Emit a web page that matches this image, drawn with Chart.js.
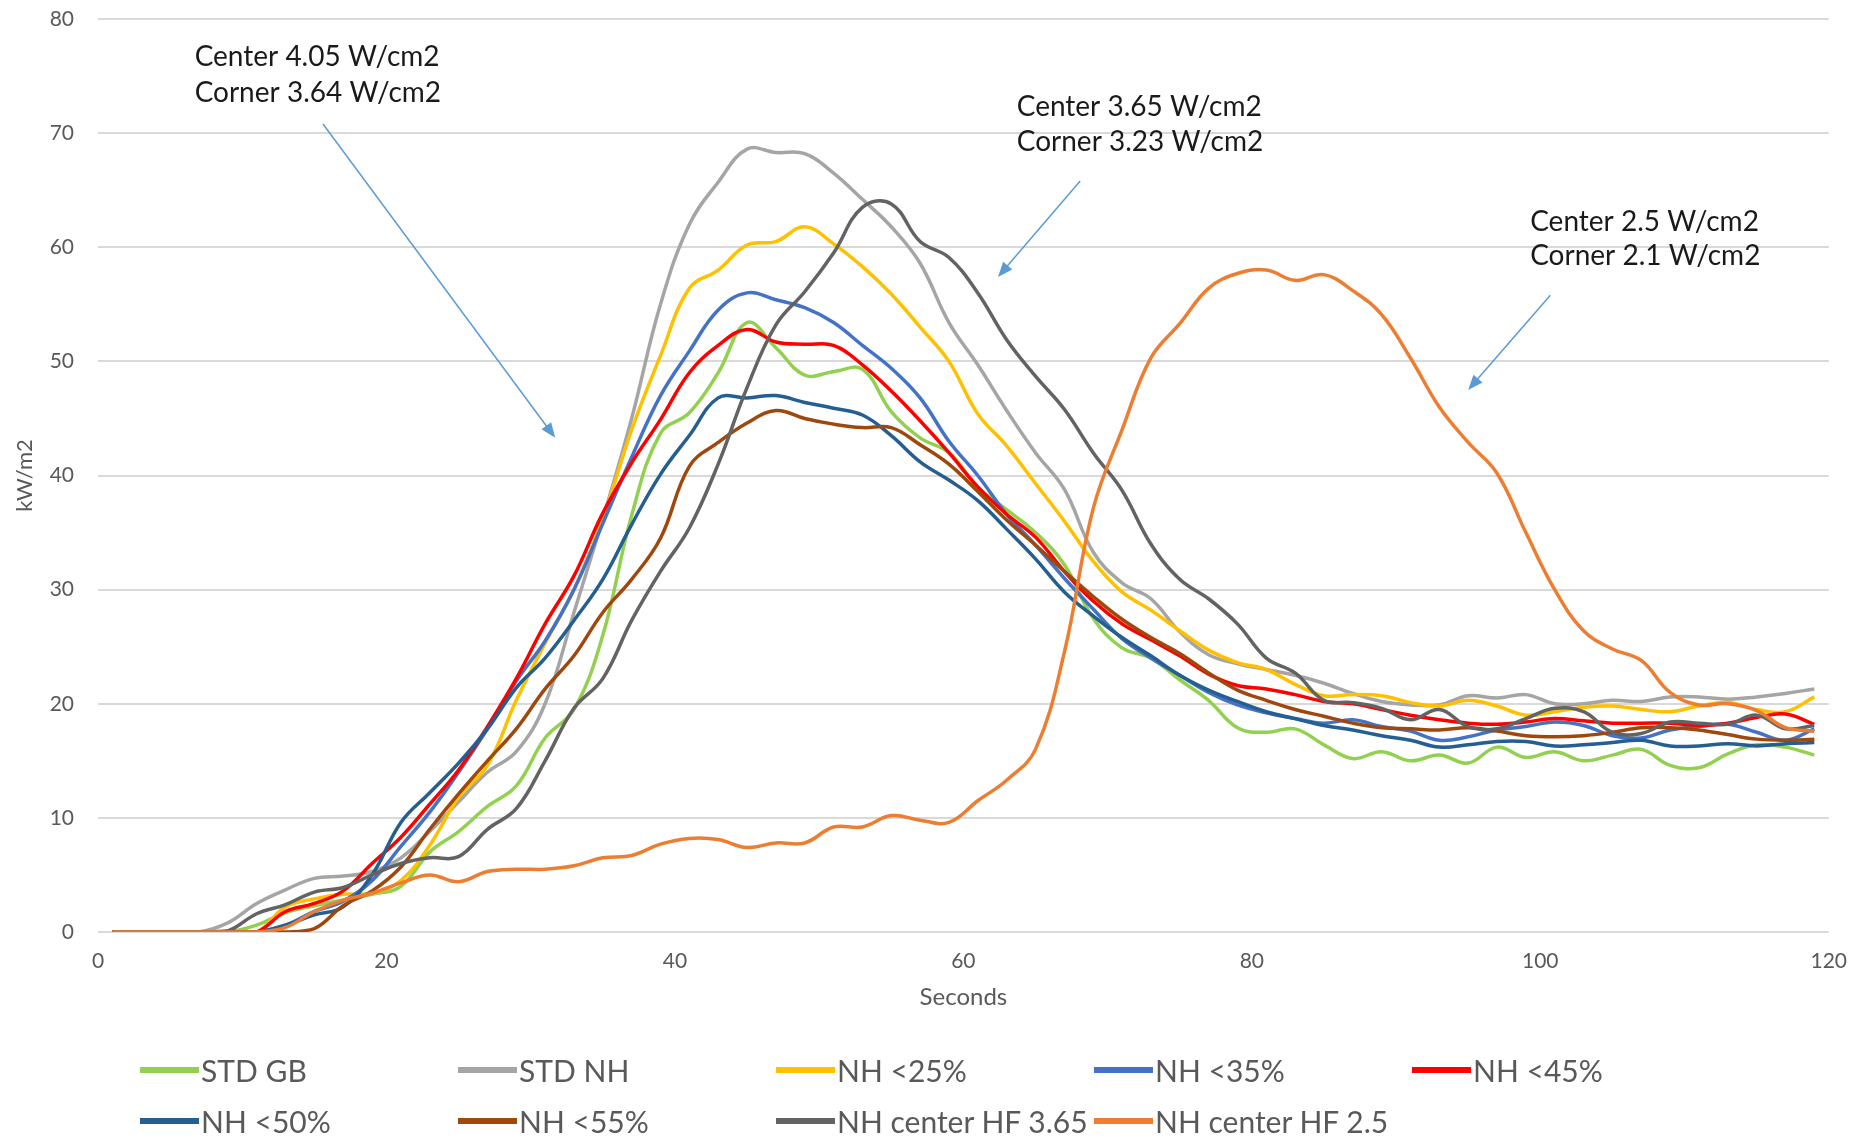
<!DOCTYPE html>
<html>
<head>
<meta charset="utf-8">
<title>Heat flux curves</title>
<script src="https://cdn.jsdelivr.net/npm/chart.js@4.4.1/dist/chart.umd.min.js"></script>
<style>
  html, body { margin: 0; padding: 0; background: #fff; }
  #wrap { position: relative; width: 1864px; height: 1139px; overflow: hidden; }
  #heatChart { display: block; }
  .legend-item {
    position: absolute; display: flex; align-items: center; height: 40px;
    font-family: Lato, "Open Sans", sans-serif; font-size: 30px; color: #595959; white-space: nowrap;
  }
  .legend-item .swatch { display: inline-block; width: 59px; height: 6px; margin-right: 2px; }
</style>
</head>
<body>
<div id="wrap">
  <canvas id="heatChart" width="1864" height="1139"></canvas>
  <div id="legend"></div>
</div>
<script>
// time axis (seconds)
const seconds = [1, 3, 5, 7, 9, 11, 13, 15, 17, 19, 21, 23, 25, 27, 29, 31, 33, 35, 37, 39,
  41, 43, 45, 47, 49, 51, 53, 55, 57, 59, 61, 63, 65, 67, 69, 71, 73, 75, 77, 79,
  81, 83, 85, 87, 89, 91, 93, 95, 97, 99, 101, 103, 105, 107, 109, 111, 113, 115, 117, 119];

// kW/m2 readings for each series
const stdGB = [0, 0, 0, 0, 0, 0.6, 1.7, 2.3, 2.8, 3.3, 4.0, 7.0, 8.8, 11.0, 12.8, 17.0, 19.5, 26.0, 36.5, 43.7,
  45.5, 49.0, 53.4, 51.2, 48.8, 49.1, 49.3, 45.6, 43.3, 42.0, 39.0, 37.0, 35.0, 32.2, 27.5, 24.9, 24.0, 22.1, 20.3, 17.9,
  17.5, 17.8, 16.4, 15.2, 15.8, 15.0, 15.5, 14.8, 16.2, 15.3, 15.8, 15.0, 15.5, 16.0, 14.6, 14.4, 15.6, 16.4, 16.2, 15.5];
const stdNH = [0, 0, 0, 0, 0.8, 2.5, 3.7, 4.7, 4.9, 5.3, 6.5, 8.8, 11.4, 14.0, 15.8, 20.0, 28.0, 36.2, 45.0, 55.0,
  62.0, 65.7, 68.6, 68.3, 68.2, 66.5, 64.2, 61.8, 58.6, 53.4, 49.7, 45.7, 42.0, 38.8, 33.3, 30.6, 29.2, 26.3, 24.3, 23.5,
  23.0, 22.5, 21.8, 20.9, 20.2, 19.9, 19.9, 20.7, 20.5, 20.8, 20.0, 20.0, 20.3, 20.2, 20.6, 20.6, 20.4, 20.6, 20.9, 21.3];
const nh25 = [0, 0, 0, 0, 0, 0, 2.2, 2.9, 3.3, 3.4, 4.5, 7.6, 11.8, 14.6, 20.3, 25.3, 30.0, 36.2, 44.0, 50.5,
  56.4, 58.0, 60.2, 60.5, 61.8, 60.3, 58.3, 55.9, 53.0, 50.0, 45.4, 42.6, 39.3, 36.0, 32.5, 29.8, 28.2, 26.4, 24.7, 23.6,
  23.0, 21.7, 20.7, 20.8, 20.7, 20.1, 19.8, 20.3, 19.8, 19.0, 19.3, 19.7, 19.8, 19.5, 19.3, 19.8, 20.1, 19.5, 19.3, 20.6];
const nh35 = [0, 0, 0, 0, 0, 0, 0.6, 1.8, 2.7, 4.5, 7.5, 10.5, 14.0, 17.8, 22.0, 25.5, 30.0, 35.8, 41.6, 47.0,
  50.9, 54.5, 56.0, 55.4, 54.7, 53.4, 51.4, 49.4, 46.8, 43.0, 40.0, 36.6, 33.9, 31.0, 28.3, 25.7, 24.0, 22.5, 21.0, 19.9,
  19.2, 18.7, 18.3, 18.6, 18.0, 17.6, 16.8, 17.1, 17.7, 18.0, 18.4, 18.1, 17.2, 17.0, 17.7, 18.0, 18.2, 17.5, 16.8, 17.8];
const nh45 = [0, 0, 0, 0, 0, 0, 1.8, 2.5, 3.6, 6.0, 8.3, 11.2, 14.2, 18.0, 22.2, 27.0, 31.2, 36.7, 41.1, 44.9,
  49.0, 51.4, 52.8, 51.7, 51.5, 51.4, 49.7, 47.4, 44.8, 42.0, 39.0, 36.6, 34.6, 31.6, 29.0, 27.0, 25.6, 24.2, 22.6, 21.6,
  21.3, 20.8, 20.2, 20.0, 19.5, 19.0, 18.6, 18.3, 18.2, 18.4, 18.7, 18.5, 18.3, 18.3, 18.3, 18.1, 18.3, 18.8, 19.1, 18.2];
const nh50 = [0, 0, 0, 0, 0, 0, 0.6, 1.5, 2.2, 5.0, 9.6, 12.2, 14.8, 17.8, 21.4, 24.0, 27.3, 30.9, 35.7, 40.1,
  43.5, 46.8, 46.8, 47.0, 46.4, 45.9, 45.3, 43.5, 41.2, 39.6, 37.8, 35.3, 32.7, 29.8, 27.7, 25.8, 24.2, 22.5, 21.2, 20.2,
  19.3, 18.7, 18.1, 17.7, 17.2, 16.8, 16.2, 16.4, 16.7, 16.7, 16.3, 16.4, 16.6, 16.8, 16.3, 16.3, 16.5, 16.3, 16.5, 16.6];
const nh55 = [0, 0, 0, 0, 0, 0, 0, 0.3, 2.3, 3.6, 5.7, 9.0, 12.1, 15.0, 17.8, 21.3, 24.2, 28.0, 30.9, 34.5,
  40.8, 42.9, 44.6, 45.7, 45.0, 44.5, 44.2, 44.2, 42.7, 41.0, 38.6, 36.1, 33.9, 31.6, 29.4, 27.4, 25.8, 24.4, 22.7, 21.2,
  20.3, 19.5, 18.9, 18.3, 17.9, 17.8, 17.7, 17.9, 17.6, 17.2, 17.1, 17.2, 17.5, 17.9, 17.9, 17.7, 17.3, 16.9, 16.8, 16.9];
const hf365 = [0, 0, 0, 0, 0.1, 1.6, 2.4, 3.5, 3.9, 5.0, 6.0, 6.5, 6.6, 9.0, 10.8, 15.0, 19.6, 22.2, 27.3, 31.6,
  35.4, 41.0, 47.7, 53.2, 56.1, 59.5, 63.5, 63.8, 60.5, 59.1, 56.0, 51.9, 48.7, 45.8, 42.0, 38.7, 34.0, 30.9, 29.2, 27.0,
  24.0, 22.7, 20.3, 20.1, 19.6, 18.6, 19.5, 18.0, 17.8, 18.7, 19.6, 19.3, 17.5, 17.4, 18.4, 18.3, 18.2, 19.0, 17.8, 18.1];
const hf25 = [0, 0, 0, 0, 0, 0, 0.4, 1.8, 2.8, 3.4, 4.3, 5.0, 4.4, 5.3, 5.5, 5.5, 5.8, 6.5, 6.7, 7.7,
  8.2, 8.1, 7.4, 7.8, 7.8, 9.2, 9.2, 10.2, 9.8, 9.6, 11.5, 13.3, 16.0, 24.5, 37.1, 44.0, 50.3, 53.3, 56.4, 57.7,
  58.0, 57.1, 57.6, 56.2, 54.1, 50.3, 46.0, 42.9, 40.2, 35.0, 30.0, 26.4, 24.8, 23.8, 21.0, 19.9, 20.0, 19.4, 17.9, 17.6];

const seriesNames = ["STD GB", "STD NH", "NH <25%", "NH <35%", "NH <45%",
  "NH <50%", "NH <55%", "NH center HF 3.65", "NH center HF 2.5"];
const seriesValues = [stdGB, stdNH, nh25, nh35, nh45, nh50, nh55, hf365, hf25];
const seriesColors = ["#92D050", "#A5A5A5", "#FFC000", "#4472C4", "#FF0000",
  "#255E91", "#9E480E", "#636363", "#ED7D31"];

// callouts: text lines, anchor of each line (seconds, kW/m2), arrow tail and head
const notes = [
  { lines: ["Center 4.05 W/cm2", "Corner 3.64 W/cm2"], at: [[6.7, 76.7], [6.7, 73.5]], from: [15.6, 70.8], to: [31.7, 43.3] },
  { lines: ["Center 3.65 W/cm2", "Corner 3.23 W/cm2"], at: [[63.7, 72.3], [63.7, 69.2]], from: [68.1, 65.8], to: [62.4, 57.4] },
  { lines: ["Center 2.5 W/cm2", "Corner 2.1 W/cm2"], at: [[99.3, 62.2], [99.3, 59.2]], from: [100.7, 55.8], to: [95.0, 47.5] }
];

const FONT = "Lato, 'Open Sans', sans-serif";

const notesPlugin = {
  id: "notes",
  afterDatasetsDraw(chart) {
    const { ctx, scales: { x, y } } = chart;
    ctx.save();
    ctx.font = "28px " + FONT;
    ctx.textBaseline = "middle";
    ctx.textAlign = "left";
    notes.forEach(n => {
      ctx.fillStyle = "#1a1a1a";
      n.lines.forEach((t, i) => {
        ctx.fillText(t, x.getPixelForValue(n.at[i][0]), y.getPixelForValue(n.at[i][1]));
      });
      const x1 = x.getPixelForValue(n.from[0]), y1 = y.getPixelForValue(n.from[1]);
      const x2 = x.getPixelForValue(n.to[0]), y2 = y.getPixelForValue(n.to[1]);
      const ang = Math.atan2(y2 - y1, x2 - x1);
      const head = 15;
      ctx.strokeStyle = "#5B9BD5";
      ctx.fillStyle = "#5B9BD5";
      ctx.lineWidth = 1.5;
      ctx.beginPath();
      ctx.moveTo(x1, y1);
      ctx.lineTo(x2 - Math.cos(ang) * head * 0.8, y2 - Math.sin(ang) * head * 0.8);
      ctx.stroke();
      ctx.beginPath();
      ctx.moveTo(x2, y2);
      ctx.lineTo(x2 - head * Math.cos(ang) + 6 * Math.sin(ang), y2 - head * Math.sin(ang) - 6 * Math.cos(ang));
      ctx.lineTo(x2 - head * Math.cos(ang) - 6 * Math.sin(ang), y2 - head * Math.sin(ang) + 6 * Math.cos(ang));
      ctx.closePath();
      ctx.fill();
    });
    ctx.restore();
  }
};

const datasets = seriesNames.map((name, i) => ({
  label: name,
  data: seconds.map((s, j) => ({ x: s, y: seriesValues[i][j] })),
  borderColor: seriesColors[i],
  backgroundColor: seriesColors[i],
  borderWidth: 3.5,
  pointRadius: 0,
  tension: 0.4,
  fill: false,
  order: seriesNames.length - 1 - i
}));

new Chart(document.getElementById("heatChart"), {
  type: "line",
  data: { datasets },
  options: {
    responsive: false,
    animation: false,
    layout: { padding: { top: 19, right: 27, bottom: 120, left: 0 } },
    plugins: { legend: { display: false }, tooltip: { enabled: false } },
    scales: {
      x: {
        type: "linear", min: 0, max: 120,
        ticks: { stepSize: 20, color: "#595959", font: { family: FONT, size: 21 }, padding: 17 },
        grid: { display: false, drawTicks: false },
        border: { display: false },
        title: { display: true, text: "Seconds", color: "#595959", font: { family: FONT, size: 24 }, padding: { top: 0, bottom: 7 } },
        afterFit(scale) { scale.height = 87; }
      },
      y: {
        min: 0, max: 80,
        ticks: { stepSize: 10, color: "#595959", font: { family: FONT, size: 21 }, padding: 24 },
        grid: { color: "#D9D9D9", lineWidth: 2, drawTicks: false },
        border: { display: false },
        title: { display: true, text: "kW/m2", color: "#595959", font: { family: FONT, size: 22 }, padding: { top: 12, bottom: 0 } },
        afterFit(scale) {
          scale.width = 98;
          // keep the plot top on the layout padding, not on the label overhang
          scale.paddingTop = 0;
          scale.paddingBottom = 0;
        }
      }
    }
  },
  plugins: [notesPlugin]
});

// legend laid out in fixed columns, like the original
const legendBox = document.getElementById("legend");
seriesNames.forEach((name, i) => {
  const col = i % 5, row = Math.floor(i / 5);
  const item = document.createElement("div");
  item.className = "legend-item";
  item.style.left = (140 + col * 318) + "px";
  item.style.top = ([1070, 1121][row] - 20) + "px";
  const sw = document.createElement("span");
  sw.className = "swatch";
  sw.style.background = seriesColors[i];
  item.appendChild(sw);
  item.appendChild(document.createTextNode(name));
  legendBox.appendChild(item);
});
</script>
</body>
</html>
